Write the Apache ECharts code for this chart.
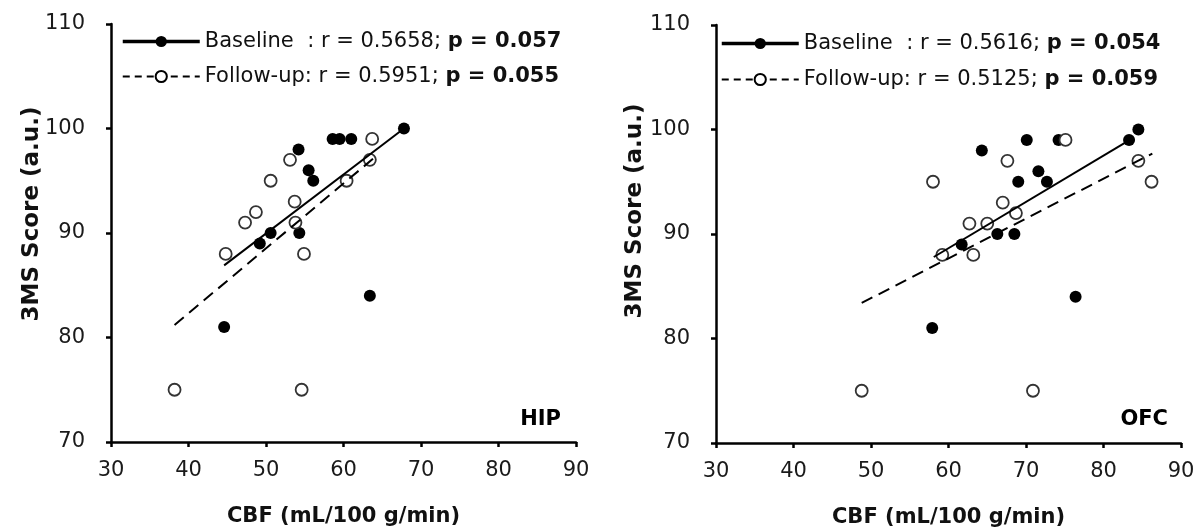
<!DOCTYPE html>
<html><head><meta charset="utf-8">
<script src="https://cdn.jsdelivr.net/npm/echarts@6/dist/echarts.min.js"></script>
<style>html,body{margin:0;padding:0;background:#fff}#c{width:1202px;height:527px}</style>
</head><body><div id="c"></div>
<script>
// ---- data ----
const xTickRange = [30, 90];
const yTickRange = [70, 110];
const panelLabels = ['HIP', 'OFC'];
const xAxisTitle = 'CBF (mL/100 g/min)';
const yAxisTitle = '3MS Score (a.u.)';

const hipBaselineX = [44.6, 49.2, 50.6, 54.2, 54.3, 55.5, 56.1, 58.6, 59.5, 61.0, 63.4, 67.8];
const hipBaselineY = [81, 89, 90, 98, 90, 96, 95, 99, 99, 99, 84, 100];
const hipFollowX = [38.2, 44.8, 47.3, 48.7, 50.6, 53.1, 53.7, 53.8, 54.6, 54.9, 60.4, 63.4, 63.7];
const hipFollowY = [75, 88, 91, 92, 95, 97, 93, 91, 75, 88, 95, 97, 99];
const hipBaselineFit = [[44.6, 86.9], [67.8, 100]];
const hipFollowFit = [[38.2, 81.2], [63.8, 97.1]];

const ofcBaselineX = [57.9, 61.7, 64.3, 66.3, 68.5, 69.0, 70.1, 71.6, 72.7, 74.2, 76.4, 83.3, 84.5];
const ofcBaselineY = [81, 89, 98, 90, 90, 95, 99, 96, 95, 99, 84, 99, 100];
const ofcFollowX = [48.8, 58.0, 59.2, 62.7, 63.2, 65.0, 67.0, 67.6, 68.7, 70.9, 75.1, 84.5, 86.2];
const ofcFollowY = [75, 95, 88, 91, 88, 91, 93, 97, 92, 75, 99, 97, 95];
const ofcBaselineFit = [[58.1, 87.8], [83.4, 99.0]];
const ofcFollowFit = [[48.8, 83.4], [86.3, 97.7]];

const legendStats = {
  'HIP Baseline': ['Baseline  : r = 0.5658; ', 'p = 0.057'],
  'HIP Follow-up': ['Follow-up: r = 0.5951; ', 'p = 0.055'],
  'OFC Baseline': ['Baseline  : r = 0.5616; ', 'p = 0.054'],
  'OFC Follow-up': ['Follow-up: r = 0.5125; ', 'p = 0.059']
};

// ---- chart ----
const FONT = '"DejaVu Sans", sans-serif';
const zip = (xs, ys) => xs.map((x, i) => [x, ys[i]]);

function xAx(gi) {
  return {
    type: 'value', gridIndex: gi, min: xTickRange[0], max: xTickRange[1], interval: 10,
    name: xAxisTitle, nameLocation: 'middle', nameGap: 64,
    nameTextStyle: { fontFamily: FONT, fontWeight: 'bold', fontSize: 21, color: '#111' },
    axisLine: { lineStyle: { color: '#000', width: 2.5 } },
    axisTick: { length: 5, lineStyle: { color: '#000', width: 2.5 } },
    axisLabel: { fontFamily: FONT, fontSize: 21, color: '#1a1a1a', margin: 18 },
    splitLine: { show: false }
  };
}
function yAx(gi) {
  return {
    type: 'value', gridIndex: gi, min: yTickRange[0], max: yTickRange[1], interval: 10,
    axisLine: { show: true, lineStyle: { color: '#000', width: 2.5 } },
    axisTick: { show: true, length: 5, lineStyle: { color: '#000', width: 2.5 } },
    axisLabel: { fontFamily: FONT, fontSize: 21, color: '#1a1a1a', margin: 26 },
    splitLine: { show: false }
  };
}
function panelSeries(gi, prefix, bx, by, fx, fy, bFit, fFit) {
  return [
    { type: 'scatter', name: prefix + ' Baseline points', xAxisIndex: gi, yAxisIndex: gi,
      data: zip(bx, by), symbol: 'circle', symbolSize: 12, itemStyle: { color: '#000', opacity: 1 }, z: 2 },
    { type: 'scatter', name: prefix + ' Follow-up points', xAxisIndex: gi, yAxisIndex: gi,
      data: zip(fx, fy), symbol: 'circle', symbolSize: 12,
      itemStyle: { color: '#fff', borderColor: '#333', borderWidth: 1.8, opacity: 1 }, z: 3 },
    { type: 'line', name: prefix + ' Baseline', xAxisIndex: gi, yAxisIndex: gi, data: bFit,
      symbol: 'circle', showSymbol: false, lineStyle: { color: '#000', width: 2 },
      itemStyle: { color: '#000' }, z: 4, silent: true },
    { type: 'line', name: prefix + ' Follow-up', xAxisIndex: gi, yAxisIndex: gi, data: fFit,
      symbol: 'emptyCircle', showSymbol: false, lineStyle: { color: '#000', width: 2, type: [12, 7] },
      itemStyle: { color: '#000' }, z: 4, silent: true }
  ];
}
function legendFor(prefix, left, top, gap) {
  return {
    data: [{ name: prefix + ' Baseline', lineStyle: { width: 3.5 } },
           { name: prefix + ' Follow-up', lineStyle: { width: 2, type: [7, 5] } }],
    orient: 'vertical', left: left, top: top, itemWidth: 77, itemHeight: 14, itemGap: gap,
    padding: 0, selectedMode: false,
    formatter: n => legendStats[n][0] + '{b|' + legendStats[n][1] + '}',
    textStyle: { fontFamily: FONT, fontSize: 21, color: '#111',
      rich: { b: { fontFamily: FONT, fontSize: 21, fontWeight: 'bold', color: '#111' } } }
  };
}

const chart = echarts.init(document.getElementById('c'), null, { renderer: 'canvas' });
chart.setOption({
  animation: false,
  backgroundColor: '#fff',
  grid: [
    { left: 111, right: 626, top: 24, bottom: 85, containLabel: false, outerBoundsMode: 'none' },
    { left: 716, right: 21, top: 25, bottom: 84, containLabel: false, outerBoundsMode: 'none' }
  ],
  xAxis: [xAx(0), xAx(1)],
  yAxis: [yAx(0), yAx(1)],
  legend: [legendFor('HIP', 121, 31, 14), legendFor('OFC', 720, 33, 15)],
  title: [
    { text: panelLabels[0], right: 1202 - 561, top: 409, padding: 0,
      textStyle: { fontFamily: FONT, fontWeight: 'bold', fontSize: 21, color: '#000' } },
    { text: panelLabels[1], right: 1202 - 1168, top: 409, padding: 0,
      textStyle: { fontFamily: FONT, fontWeight: 'bold', fontSize: 21, color: '#000' } }
  ],
  graphic: [
    { type: 'text', x: 32, y: 214, rotation: Math.PI / 2,
      style: { text: yAxisTitle, font: 'bold 23px "DejaVu Sans"', fill: '#111',
        align: 'center', verticalAlign: 'middle', textAlign: 'center', textVerticalAlign: 'middle' } },
    { type: 'text', x: 635, y: 211, rotation: Math.PI / 2,
      style: { text: yAxisTitle, font: 'bold 23px "DejaVu Sans"', fill: '#111',
        align: 'center', verticalAlign: 'middle', textAlign: 'center', textVerticalAlign: 'middle' } }
  ],
  series: [
    ...panelSeries(0, 'HIP', hipBaselineX, hipBaselineY, hipFollowX, hipFollowY, hipBaselineFit, hipFollowFit),
    ...panelSeries(1, 'OFC', ofcBaselineX, ofcBaselineY, ofcFollowX, ofcFollowY, ofcBaselineFit, ofcFollowFit)
  ]
});
</script></body></html>
